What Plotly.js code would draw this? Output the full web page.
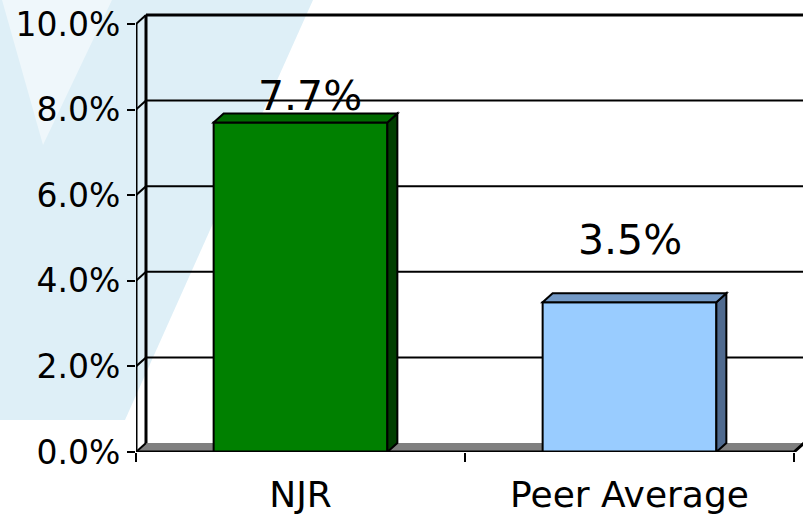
<!DOCTYPE html>
<html><head><meta charset="utf-8">
<script src="https://cdn.plot.ly/plotly-3.0.1.min.js"></script>
<style>html,body{margin:0;padding:0;background:#fff;} #chart{width:803px;height:519px;}</style>
</head><body><div id="chart"></div>
<script>
// ---- data ----
const categories = ['NJR', 'Peer Average'];
const values = [7.7, 3.5];
const yTickValues = [0, 2, 4, 6, 8, 10];
const yTickLabels = ['0.0%', '2.0%', '4.0%', '6.0%', '8.0%', '10.0%'];
const frontColors = ['#008000', '#99CCFF'];
const topColors = ['#006A00', '#7399C6'];
const sideColors = ['#003F00', '#4F6A8F'];

// ---- geometry (style) ----
const W = 803, H = 519, mL = 136, mR = 0, mT = 10, mB = 67;
const plotW = W - mL - mR, plotH = H - mT - mB;
const unitX = 329, unitY = 42.8;
const xMin = -0.5, xMax = xMin + plotW / unitX;
const yMax = plotH / unitY;
const dx = 10 / unitX, dy = 9 / unitY;
const halfW = 0.264;
const labelShift = [{x: 9, y: 0}, {x: 0, y: 36}];

const xs = categories.map((c, i) => i);
const boundaries = [];
for (let i = 0; i <= categories.length; i++) boundaries.push(i - 0.5);
const xEnd = boundaries[boundaries.length - 1];

function px(x) { return (x - mL) / plotW; }
function py(y) { return (H - mB - y) / plotH; }

const shapes = [];
// watermark (decorative background)
shapes.push({type: 'path', xref: 'paper', yref: 'paper', layer: 'below',
  path: `M${px(0)},${py(0)} L${px(313)},${py(0)} L${px(125)},${py(420)} L${px(0)},${py(420)} Z`,
  fillcolor: '#DEEFF7', line: {width: 0}});
shapes.push({type: 'path', xref: 'paper', yref: 'paper', layer: 'below',
  path: `M${px(2)},${py(0)} L${px(112)},${py(0)} L${px(43)},${py(145)} Z`,
  fillcolor: 'rgba(255,255,255,0.5)', line: {width: 0}});

// floor
shapes.push({type: 'path', xref: 'x', yref: 'y', layer: 'below',
  path: `M${xMin},0 L${xMin + dx},${dy} L${xEnd + dx},${dy} L${xEnd},0 Z`,
  fillcolor: '#808080', line: {width: 0}});
// back gridlines and connectors
yTickValues.forEach(t => {
  if (t > 0) shapes.push({type: 'line', xref: 'x', yref: 'y', layer: 'below',
    x0: xMin + dx, x1: xMax + 1, y0: t + dy, y1: t + dy, line: {color: '#000', width: t === 10 ? 3 : 2}});
  shapes.push({type: 'line', xref: 'x', yref: 'y', layer: 'below',
    x0: xMin, x1: xMin + dx, y0: t, y1: t + dy, line: {color: '#000', width: 2}});
});
// back wall left edge
shapes.push({type: 'line', xref: 'x', yref: 'y', layer: 'below',
  x0: xMin + dx, x1: xMin + dx, y0: dy, y1: yTickValues[yTickValues.length - 1] + dy, line: {color: '#000', width: 3}});

// bar 3D faces
values.forEach((v, i) => {
  const l = xs[i] - halfW, r = xs[i] + halfW;
  shapes.push({type: 'path', xref: 'x', yref: 'y', layer: 'above',
    path: `M${r},0 L${r},${v} L${r + dx},${v + dy} L${r + dx},${dy} Z`,
    fillcolor: sideColors[i], line: {color: '#000', width: 2}});
  shapes.push({type: 'path', xref: 'x', yref: 'y', layer: 'above',
    path: `M${l},${v} L${l + dx},${v + dy} L${r + dx},${v + dy} L${r},${v} Z`,
    fillcolor: topColors[i], line: {color: '#000', width: 2}});
});
// front axes
shapes.push({type: 'line', xref: 'x', yref: 'y', layer: 'above',
  x0: xMin, x1: xMin, y0: 0, y1: yTickValues[yTickValues.length - 1], line: {color: '#000', width: 3}});
shapes.push({type: 'path', xref: 'x', yref: 'y', layer: 'above',
  path: `M${xMin},0 L${xEnd},0 L${xEnd + dx},${dy}`, line: {color: '#000', width: 3}});

const annotations = values.map((v, i) => ({
  x: xs[i], y: v, xref: 'x', yref: 'y', text: v.toFixed(1) + '%', showarrow: false,
  yanchor: 'bottom', xanchor: 'center', xshift: labelShift[i].x, yshift: labelShift[i].y,
  font: {family: 'DejaVu Sans', size: 41, color: '#000'}
}));

const trace = {
  type: 'bar', x: xs, y: values, width: halfW * 2,
  marker: {color: frontColors, line: {color: '#000', width: 2}},
  hoverinfo: 'skip', showlegend: false
};

const layout = {
  width: W, height: H,
  margin: {l: mL, r: mR, t: mT, b: mB, pad: 0},
  paper_bgcolor: '#FFFFFF', plot_bgcolor: 'rgba(0,0,0,0)',
  showlegend: false,
  font: {family: 'DejaVu Sans', color: '#000'},
  xaxis: {
    type: 'linear', range: [xMin, xMax], fixedrange: true,
    tickmode: 'array', tickvals: xs, ticktext: categories, ticks: '',
    tickfont: {family: 'DejaVu Sans', size: 36, color: '#000'},
    ticklabelstandoff: 18,
    minor: {tickmode: 'array', tickvals: boundaries, ticks: 'outside', ticklen: 9, tickwidth: 2, tickcolor: '#000', showgrid: false},
    showgrid: false, zeroline: false, showline: false
  },
  yaxis: {
    range: [0, yMax], fixedrange: true,
    tickmode: 'array', tickvals: yTickValues, ticktext: yTickLabels,
    ticks: 'outside', ticklen: 8, tickwidth: 2, tickcolor: '#000',
    tickfont: {family: 'DejaVu Sans', size: 33, color: '#000'},
    showgrid: false, zeroline: false, showline: false
  },
  shapes: shapes,
  annotations: annotations
};

Plotly.newPlot('chart', [trace], layout, {staticPlot: true, displayModeBar: false});
</script>
</body></html>
